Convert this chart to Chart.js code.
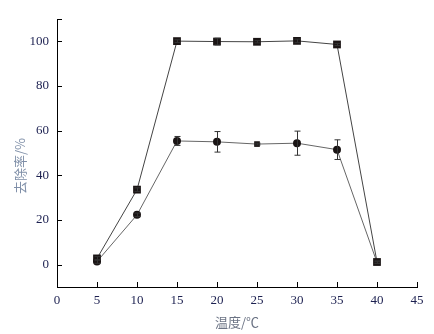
<!DOCTYPE html>
<html>
<head>
<meta charset="utf-8">
<script src="https://cdn.jsdelivr.net/npm/chart.js@4"></script>
<style>
  body { margin: 0; background: #fff; }
  #wrap { width: 434px; height: 334px; position: relative; }
</style>
</head>
<body>
<div id="wrap"><canvas id="myChart"></canvas></div>
<script>
// temperature (°C)
const temps = [5, 10, 15, 20, 25, 30, 35, 40];
// removal rate, square series
const squareVals = [2.8, 33.6, 100.1, 99.9, 99.8, 100.2, 98.6, 1.2];
const squareErr = [0.8, 0.8, 0.6, 1.5, 0.5, 0.8, 0.5, 0.5];
// removal rate, circle series
const circleVals = [1.4, 22.3, 55.4, 55.0, 54.0, 54.4, 51.5, 1.0];
const circleErr = [0.8, 0.8, 2.0, 4.6, 0.4, 5.4, 4.4, 0.5];
const circleStyles = ['circle', 'circle', 'circle', 'circle', 'rect', 'circle', 'circle', 'rect'];

const xTicks = [0, 5, 10, 15, 20, 25, 30, 35, 40, 45];
const yTicks = [0, 20, 40, 60, 80, 100, 110];

const tickFont = { family: "'Liberation Serif', 'Times New Roman', serif", size: 13 };
const tickColor = '#1c2050';

function toPoints(vals) {
    return temps.map((t, i) => ({ x: t, y: vals[i] }));
}

// inward tick marks + error bars + axis titles
const extras = {
    id: 'extras',
    afterDatasetsDraw(chart) {
        const ctx = chart.ctx;
        const xs = chart.scales.x, ys = chart.scales.y;
        const area = chart.chartArea;
        ctx.save();
        // error bars
        ctx.strokeStyle = '#333';
        ctx.lineWidth = 1;
        const errs = [squareErr, circleErr];
        chart.data.datasets.forEach((ds, di) => {
            ds.data.forEach((p, i) => {
                const e = errs[di][i];
                const px = Math.round(xs.getPixelForValue(p.x)) + 0.5;
                const top = ys.getPixelForValue(p.y + e);
                const bot = ys.getPixelForValue(p.y - e);
                ctx.beginPath();
                ctx.moveTo(px, top); ctx.lineTo(px, bot);
                ctx.moveTo(px - 3, top); ctx.lineTo(px + 3, top);
                ctx.moveTo(px - 3, bot); ctx.lineTo(px + 3, bot);
                ctx.stroke();
            });
        });
        // ticks pointing into the plot
        ctx.strokeStyle = '#000';
        ctx.beginPath();
        xTicks.forEach(v => {
            const px = Math.round(xs.getPixelForValue(v)) + 0.5;
            ctx.moveTo(px, area.bottom); ctx.lineTo(px, area.bottom - 5);
        });
        yTicks.forEach(v => {
            const py = Math.round(ys.getPixelForValue(v)) + 0.5;
            ctx.moveTo(area.left, py); ctx.lineTo(area.left + 5, py);
        });
        ctx.stroke();
        // axis titles
        ctx.font = "13px 'Noto Sans CJK SC', sans-serif";
        ctx.textAlign = 'center';
        ctx.textBaseline = 'middle';
        ctx.fillStyle = '#6b7384';
        ctx.fillText('温度/℃', (area.left + area.right) / 2, 322);
        ctx.translate(20, 166);
        ctx.rotate(-Math.PI / 2);
        ctx.fillStyle = '#7f8fa8';
        ctx.fillText('去除率/%', 0, 0);
        ctx.restore();
    }
};

const ctx = document.getElementById('myChart').getContext('2d');
window.myChart = new Chart(ctx, {
    type: 'line',
    data: {
        datasets: [{
            label: 'square',
            data: toPoints(squareVals),
            borderColor: '#444',
            borderWidth: 1,
            pointStyle: 'rect',
            pointRadius: 5.5,
            pointBackgroundColor: '#1a1414',
            pointBorderColor: '#1a1414',
            pointBorderWidth: 0
        }, {
            label: 'circle',
            data: toPoints(circleVals),
            borderColor: '#666',
            borderWidth: 1,
            pointStyle: circleStyles,
            pointRadius: 4,
            pointBackgroundColor: '#1a1414',
            pointBorderColor: '#1a1414',
            pointBorderWidth: 0
        }]
    },
    options: {
        responsive: true,
        maintainAspectRatio: false,
        animation: false,
        layout: { padding: { top: 19, right: 17, left: 0, bottom: 0 } },
        plugins: {
            legend: { display: false },
            tooltip: { enabled: false }
        },
        scales: {
            x: {
                type: 'linear',
                min: 0,
                max: 45,
                afterBuildTicks: s => { s.ticks = xTicks.map(v => ({ value: v })); },
                afterFit: s => { s.height = 47; },
                grid: { display: false, drawTicks: false },
                border: { color: '#000', width: 1 },
                ticks: { font: tickFont, color: tickColor, padding: 6, maxRotation: 0 }
            },
            y: {
                min: -10,
                max: 110,
                afterBuildTicks: s => { s.ticks = yTicks.map(v => ({ value: v })); },
                afterFit: s => { s.width = 57; },
                grid: { display: false, drawTicks: false },
                border: { color: '#000', width: 1 },
                ticks: {
                    font: tickFont, color: tickColor, padding: 8,
                    callback: v => (v > 100 ? '' : v)
                }
            }
        }
    },
    plugins: [extras]
});
</script>
</body>
</html>
